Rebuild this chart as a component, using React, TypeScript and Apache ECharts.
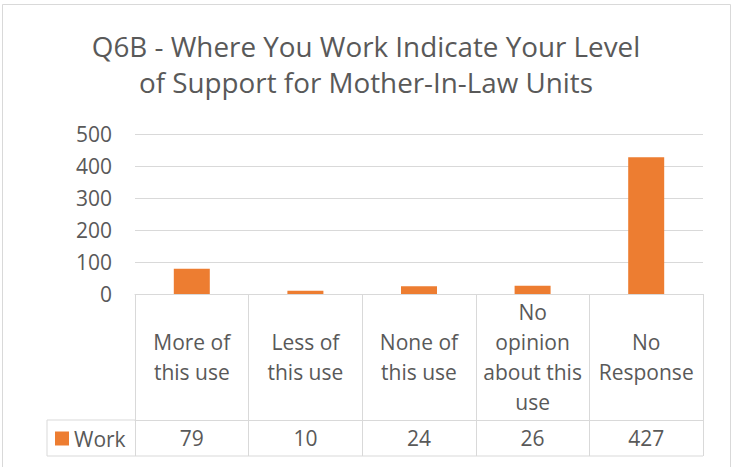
import React, { useEffect, useRef } from "react";
import * as echarts from "echarts";

const titleText = "Q6B - Where You Work Indicate Your Level\nof Support for Mother-In-Law Units";
const categories = [
  "More of\nthis use",
  "Less of\nthis use",
  "None of\nthis use",
  "No\nopinion\nabout this\nuse",
  "No\nResponse",
];
const seriesName = "Work";
const workValues = [79, 10, 24, 26, 427];
const yMin = 0;
const yMax = 500;
const yInterval = 100;

const W = 732;
const H = 467;
const FONT = "'Open Sans', 'Noto Sans', sans-serif";
const TEXT = "#595959";
const LINE = "#D9D9D9";
const BAR = "#ED7D31";

const gridLeft = 135;
const gridRight = 703;
const gridTop = 134;
const gridBottom = 294;
const rowLine = 420;
const tableBottom = 456;
const legendLeft = 47;

export default function App() {
  const ref = useRef<HTMLDivElement>(null);
  useEffect(() => {
    document.body.style.margin = "0";
    const chart = echarts.init(ref.current!, null, { renderer: "svg" });
    chart.setOption({
      animation: false,
      backgroundColor: "#ffffff",
      textStyle: { fontFamily: FONT },
      title: {
        text: titleText,
        left: "center",
        top: 23,
        textStyle: {
          fontFamily: FONT,
          fontSize: 27.8,
          lineHeight: 36,
          fontWeight: "normal",
          color: TEXT,
        },
      },
      legend: {
        data: [seriesName],
        left: 55,
        top: 428,
        padding: 0,
        icon: "rect",
        itemWidth: 14,
        itemHeight: 14,
        textStyle: { fontFamily: FONT, fontSize: 21, color: TEXT },
      },
      grid: {
        left: gridLeft,
        right: W - gridRight,
        top: gridTop,
        bottom: H - gridBottom,
        containLabel: false,
      },
      xAxis: [
        {
          type: "category",
          data: categories,
          position: "bottom",
          axisLine: { show: true, lineStyle: { color: LINE, width: 1 } },
          axisTick: {
            show: true,
            length: tableBottom - gridBottom,
            lineStyle: { color: LINE, width: 1 },
          },
          axisLabel: {
            interval: 0,
            margin: (rowLine - gridBottom) / 2,
            verticalAlign: "middle",
            lineHeight: 30,
            fontSize: 21,
            color: TEXT,
            fontFamily: FONT,
          },
        },
        {
          type: "category",
          data: workValues.map(String),
          position: "bottom",
          offset: rowLine - gridBottom,
          axisLine: { show: true, lineStyle: { color: LINE, width: 1 } },
          axisTick: { show: false },
          axisLabel: {
            interval: 0,
            margin: (tableBottom - rowLine) / 2,
            verticalAlign: "middle",
            fontSize: 21,
            color: TEXT,
            fontFamily: FONT,
          },
        },
      ],
      yAxis: {
        type: "value",
        min: yMin,
        max: yMax,
        interval: yInterval,
        axisLine: { show: false },
        axisTick: { show: false },
        splitLine: { lineStyle: { color: LINE, width: 1 } },
        axisLabel: { margin: 23, fontSize: 21, color: TEXT, fontFamily: FONT },
      },
      series: [
        {
          name: seriesName,
          type: "bar",
          data: workValues,
          xAxisIndex: 0,
          barWidth: 36,
          itemStyle: { color: BAR },
        },
      ],
      graphic: [
        {
          type: "rect",
          shape: { x: 2.5, y: 4.5, width: 728, height: 480 },
          style: { fill: "none", stroke: LINE, lineWidth: 1 },
          silent: true,
        },
        {
          type: "line",
          shape: { x1: legendLeft, y1: rowLine, x2: gridLeft, y2: rowLine },
          style: { stroke: LINE, lineWidth: 1 },
          silent: true,
        },
        {
          type: "line",
          shape: { x1: legendLeft, y1: tableBottom, x2: gridRight, y2: tableBottom },
          style: { stroke: LINE, lineWidth: 1 },
          silent: true,
        },
        {
          type: "line",
          shape: { x1: legendLeft, y1: rowLine, x2: legendLeft, y2: tableBottom },
          style: { stroke: LINE, lineWidth: 1 },
          silent: true,
        },
      ],
    });
    return () => chart.dispose();
  }, []);
  return <div ref={ref} style={{ width: W, height: H }} />;
}
